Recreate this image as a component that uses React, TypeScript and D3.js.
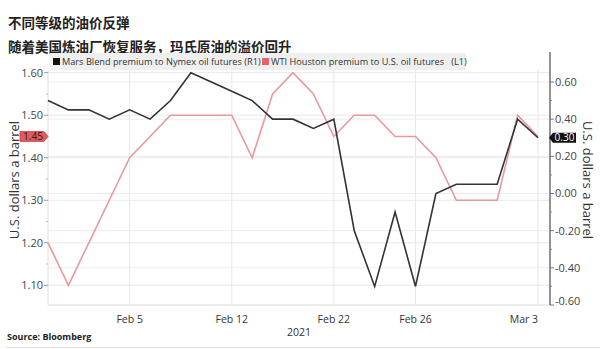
import React from "react";
import * as d3 from "d3";

const dates = [
  "Feb 1", "Feb 2", "Feb 3", "Feb 4", "Feb 5",
  "Feb 8", "Feb 9", "Feb 10", "Feb 11", "Feb 12",
  "Feb 16", "Feb 17", "Feb 18", "Feb 19",
  "Feb 22", "Feb 23", "Feb 24", "Feb 25", "Feb 26",
  "Mar 1", "Mar 2", "Mar 3", "Mar 4", "Mar 5", "Mar 8",
];
// Mars Blend premium to Nymex oil futures (R1)
const marsValues = [
  0.5, 0.45, 0.45, 0.4, 0.45,
  0.4, 0.5, 0.65, 0.6, 0.55,
  0.5, 0.4, 0.4, 0.35,
  0.4, -0.2, -0.5, -0.1, -0.5,
  0.0, 0.05, 0.05, 0.05, 0.4, 0.3,
];
// WTI Houston premium to U.S. oil futures (L1)
const wtiValues = [
  1.2, 1.1, 1.2, 1.3, 1.4,
  1.45, 1.5, 1.5, 1.5, 1.5,
  1.4, 1.55, 1.6, 1.55,
  1.45, 1.5, 1.5, 1.45, 1.45,
  1.4, 1.3, 1.3, 1.3, 1.5, 1.45,
];
const tickDates = ["Feb 5", "Feb 12", "Feb 22", "Feb 26", "Mar 8"];
const tickLabels = ["Feb 5", "Feb 12", "Feb 22", "Feb 26", "Mar 3"];
const leftTicks = [1.1, 1.2, 1.3, 1.4, 1.5, 1.6];
const rightTicks = [-0.6, -0.4, -0.2, 0.0, 0.2, 0.4, 0.6];
const leftMinor = [1.15, 1.25, 1.35, 1.45, 1.55];
const rightMinor = [-0.5, -0.3, -0.1, 0.1, 0.3, 0.5];

const W = 600;
const H = 349;
const plotL = 48;
const plotR = 550;
const plotT = 52;
const plotB = 305;

const FONT = "'Open Sans', 'DejaVu Sans', sans-serif";
const CJK = "'Noto Sans CJK SC', sans-serif";

export default function App() {
  const x = d3.scalePoint<string>().domain(dates).range([48, 538]);
  const yL = d3.scaleLinear().domain([1.1, 1.6]).range([285.3, 72.7]);
  const yR = d3.scaleLinear().domain([-0.6, 0.6]).range([305, 82]);

  const lineL = d3
    .line<number>()
    .x((_, i) => x(dates[i]) as number)
    .y((d) => yL(d));
  const lineR = d3
    .line<number>()
    .x((_, i) => x(dates[i]) as number)
    .y((d) => yR(d));

  const lastL = wtiValues[wtiValues.length - 1];
  const lastR = marsValues[marsValues.length - 1];
  const yLast = yL(lastL);
  const yLastR = yR(lastR);

  return (
    <svg
      width={W}
      height={H}
      style={{ position: "absolute", left: 0, top: 0, background: "#fff" }}
    >
      <rect x={0} y={0} width={W} height={H} fill="#fff" />
      {/* Titles */}
      <text x={8} y={28} fontFamily={CJK} fontWeight={700} fontSize={13.5} fill="#222">
        不同等级的油价反弹
      </text>
      <text x={8} y={52} fontFamily={CJK} fontWeight={700} fontSize={13.5} fill="#222">
        随着美国炼油厂恢复服务，玛氏原油的溢价回升
      </text>

      {/* horizontal grid */}
      {leftTicks.map((t) => (
        <line key={"gl" + t} x1={plotL} x2={plotR} y1={yL(t)} y2={yL(t)} stroke="#e8e8e8" strokeWidth={1} />
      ))}
      {rightTicks.map((t) => (
        <line key={"gr" + t} x1={plotL} x2={plotR} y1={yR(t)} y2={yR(t)} stroke="#ececec" strokeWidth={1} />
      ))}
      {/* vertical grid */}
      {tickDates.map((d) => (
        <line key={"gv" + d} x1={x(d)} x2={x(d)} y1={plotT + 18} y2={plotB} stroke="#e8e8e8" strokeWidth={1} />
      ))}
      {/* bottom line */}
      <line x1={plotL} x2={plotR} y1={plotB} y2={plotB} stroke="#e4e4e4" strokeWidth={1} />
      {/* left axis line */}
      <line x1={plotL} x2={plotL} y1={plotT + 18} y2={plotB} stroke="#eadada" strokeWidth={1} />

      {/* legend */}
      <rect x={50} y={53} width={416} height={17} fill="#efefef" />
      <rect x={53} y={58} width={7} height={7} fill="#111" />
      <text x={62} y={64.5} fontFamily={FONT} fontSize={9.2} fill="#333">
        Mars Blend premium to Nymex oil futures (R1)
      </text>
      <rect x={262} y={58} width={7} height={7} fill="#e8646a" />
      <text x={271} y={64.5} fontFamily={FONT} fontSize={9.2} fill="#333" xmlSpace="preserve">
        WTI Houston premium to U.S. oil futures   (L1)
      </text>

      {/* lines */}
      <path d={lineL(wtiValues) || ""} fill="none" stroke="#e9999b" strokeWidth={1.6} strokeLinejoin="miter" />
      <path d={lineR(marsValues) || ""} fill="none" stroke="#333" strokeWidth={1.6} strokeLinejoin="miter" />

      {/* left axis ticks */}
      {leftTicks.map((t) => (
        <g key={"lt" + t}>
          <line x1={plotL - 4} x2={plotL} y1={yL(t)} y2={yL(t)} stroke="#999" />
          <text x={plotL - 5} y={yL(t)} dy="0.35em" textAnchor="end" fontFamily={FONT} fontSize={11} fill="#444">
            {t.toFixed(2)}
          </text>
        </g>
      ))}
      {leftMinor.map((t) => (
        <line key={"lm" + t} x1={plotL - 2} x2={plotL} y1={yL(t)} y2={yL(t)} stroke="#bbb" />
      ))}

      {/* right axis */}
      <line x1={plotR} x2={plotR} y1={plotT - 48 + 48} y2={plotB} stroke="#777" strokeWidth={1.6} />
      {rightTicks.map((t) => (
        <g key={"rt" + t}>
          <line x1={plotR} x2={plotR + 4} y1={yR(t)} y2={yR(t)} stroke="#777" />
          <text
            x={plotR + 5}
            y={t === -0.6 ? yR(t) - 4 : yR(t)}
            dy="0.35em"
            fontFamily={FONT}
            fontSize={11}
            fill="#444"
          >
            {t.toFixed(2)}
          </text>
        </g>
      ))}
      {rightMinor.map((t) => (
        <line key={"rm" + t} x1={plotR} x2={plotR + 2} y1={yR(t)} y2={yR(t)} stroke="#888" />
      ))}

      {/* last value badges */}
      <path
        d={`M20,${yLast - 5} H44 L48,${yLast} L44,${yLast + 5} H20 Z`}
        fill="#e4595d"
        stroke="#c94448"
        strokeWidth={0.8}
      />
      <text x={33} y={yLast} dy="0.36em" textAnchor="middle" fontFamily={FONT} fontSize={10} fill="#222">
        {lastL.toFixed(2)}
      </text>
      <path d={`M549,${yLastR} L553,${yLastR - 5} H576 V${yLastR + 5} H553 Z`} fill="#111" />
      <text x={564.5} y={yLastR} dy="0.36em" textAnchor="middle" fontFamily={FONT} fontSize={10} fill="#fff">
        {lastR.toFixed(2)}
      </text>

      {/* axis titles */}
      <text
        transform={`translate(14,180) rotate(-90)`}
        textAnchor="middle"
        dy="0.35em"
        fontFamily={FONT}
        fontSize={13}
        fill="#333"
      >
        U.S. dollars a barrel
      </text>
      <text
        transform={`translate(588,180) rotate(90)`}
        textAnchor="middle"
        dy="0.35em"
        fontFamily={FONT}
        fontSize={13}
        fill="#333"
      >
        U.S. dollars a barrel
      </text>

      {/* x tick labels */}
      {tickDates.map((d, i) => (
        <text
          key={"xl" + d}
          x={x(d)}
          y={319}
          dy="0.35em"
          textAnchor={i === tickDates.length - 1 ? "end" : "middle"}
          fontFamily={FONT}
          fontSize={10.5}
          fill="#333"
        >
          {tickLabels[i]}
        </text>
      ))}
      <text x={299} y={332} dy="0.35em" textAnchor="middle" fontFamily={FONT} fontSize={10.5} fill="#333">
        2021
      </text>

      {/* source */}
      <text x={7} y={339.5} fontFamily={FONT} fontWeight={700} fontSize={9} fill="#222">
        Source: Bloomberg
      </text>
      <line x1={6} x2={600} y1={347.5} y2={347.5} stroke="#ddd" />
    </svg>
  );
}
